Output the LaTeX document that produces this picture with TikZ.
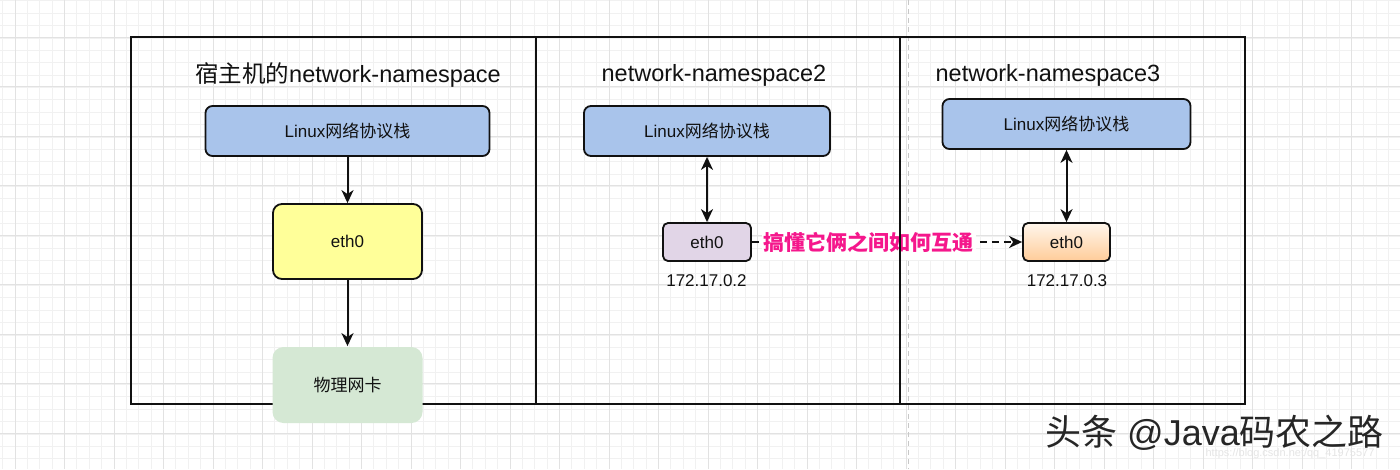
\documentclass[tikz,border=0pt]{standalone}
\usepackage{fontspec}
\setmainfont{Liberation Sans}
\newfontfamily\cjk{Noto Sans CJK SC}
\usetikzlibrary{arrows.meta}
\definecolor{gridminor}{HTML}{F1F1F1}
\definecolor{gridmajor}{HTML}{E2E2E2}
\definecolor{pagebrk}{HTML}{C8C8C8}
\definecolor{stackblue}{HTML}{A9C4EB}
\definecolor{ethyellow}{HTML}{FFFF99}
\definecolor{nicgreen}{HTML}{D5E8D4}
\definecolor{ethpurple}{HTML}{E1D5E7}
\definecolor{ethorangetop}{HTML}{FFF6EC}
\definecolor{ethorangebot}{HTML}{FFCC99}
\definecolor{linkpink}{HTML}{F5178C}
\definecolor{inkdark}{HTML}{111111}
\tikzset{
  minorline/.style={gridminor, line width=0.8pt},
  majorline/.style={gridmajor, line width=1pt},
  boxnode/.style={draw=inkdark, line width=1.8pt, rounded corners=7pt, align=center,
    inner sep=0pt, font=\fontsize{17}{20}\selectfont, text=inkdark},
  titletext/.style={font=\fontsize{23.5}{27}\selectfont, text=inkdark, inner sep=0pt},
  iptext/.style={font=\fontsize{17}{20}\selectfont, text=inkdark, inner sep=0pt},
  conn/.style={line width=2pt, draw=inkdark},
  tip/.tip={Stealth[length=13pt,width=12pt,inset=4pt]},
  frame/.style={line width=2pt, draw=inkdark},
}
\begin{document}
\begin{tikzpicture}[x=1pt,y=-1pt]
\useasboundingbox (0,0) rectangle (1400,469);
\fill[white] (0,0) rectangle (1400,469);
% grid
\foreach \i in {0,...,113} {\draw[minorline] ({2.625+12.375*\i},0) -- ({2.625+12.375*\i},469);}
\foreach \j in {0,...,37} {\draw[minorline] (0,{0.875+12.375*\j}) -- (1400,{0.875+12.375*\j});}
\foreach \i in {0,...,28} {\draw[majorline] ({15+49.5*\i},0) -- ({15+49.5*\i},469);}
\foreach \j in {0,...,8} {\draw[majorline] (0,{37+49.5*\j}) -- (1400,{37+49.5*\j});}
% page break line
\draw[pagebrk, line width=1pt, dash pattern=on 5pt off 4pt] (908,0) -- (908,469);

% titles
\node[titletext] (t1) at (348,75) {{\cjk 宿主机的}network-namespace};
\node[titletext] (t2) at (714,75) {network-namespace2};
\node[titletext] (t3) at (1048,75) {network-namespace3};

% stacks
\node[boxnode, fill=stackblue, minimum width=284pt, minimum height=50pt] (s1) at (347.5,131) {Linux{\cjk 网络协议栈}};
\node[boxnode, fill=stackblue, minimum width=246pt, minimum height=50pt] (s2) at (707,131) {Linux{\cjk 网络协议栈}};
\node[boxnode, fill=stackblue, minimum width=248pt, minimum height=50pt] (s3) at (1066.5,124) {Linux{\cjk 网络协议栈}};

% eth0 boxes
\node[boxnode, fill=ethyellow, minimum width=149pt, minimum height=75pt, rounded corners=9pt] (e1) at (347.5,241.5) {eth0};
\node[boxnode, fill=ethpurple, minimum width=88pt, minimum height=38pt, rounded corners=5pt] (e2) at (707,242) {eth0};
\node[boxnode, top color=ethorangetop, bottom color=ethorangebot, minimum width=87pt, minimum height=38pt, rounded corners=5pt] (e3) at (1066.5,242) {eth0};

% ip labels
\node[iptext] (ip2) at (706.5,281) {172.17.0.2};
\node[iptext] (ip3) at (1067,281) {172.17.0.3};

% connectors
\draw[conn, -tip] (s1.south) -- (e1.north);
\draw[conn, tip-tip] (s2.south) -- (e2.north);
\draw[conn, tip-tip] (s3.south) -- (e3.north);
\draw[conn, dash pattern=on 7pt off 5pt, -tip] (e2.east) --
  node[pos=0.432, fill=white, inner xsep=2pt, inner ysep=8pt, text=linkpink,
       font=\fontsize{21}{24}\selectfont\cjk\bfseries] (lbl) {搞懂它俩之间如何互通} (e3.west);

% frame and dividers
\draw[frame] (131,37) rectangle (1245,404);
\draw[frame] (536,37) -- (536,404);
\draw[frame] (900,37) -- (900,404);

% physical NIC (covers the frame's bottom line)
\node[boxnode, draw=none, fill=nicgreen, minimum width=150pt, minimum height=76pt, rounded corners=11pt] (nic) at (347.5,385) {{\cjk 物理网卡}};
\draw[conn, -tip] (e1.south) -- (nic.north);

% watermark
\node[font=\fontsize{36}{40}\selectfont, text=black!85, inner sep=0pt] (wm) at (1214.5,433) {{\cjk 头条} @Java{\cjk 码农之路}};
\node[font=\fontsize{11}{13}\selectfont, text=black!10, inner sep=0pt] (url) at (1290,454) {https://blog.csdn.net/qq\_41975577};
\end{tikzpicture}
\end{document}
